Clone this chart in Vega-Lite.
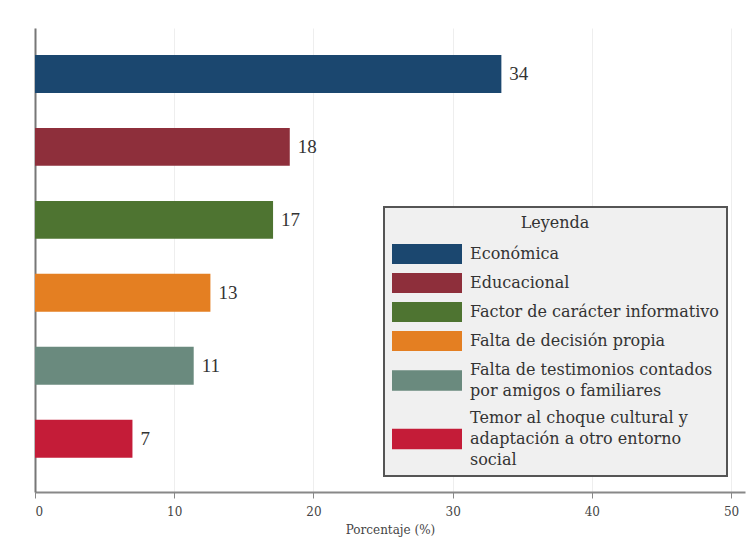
{
  "$schema": "https://vega.github.io/schema/vega-lite/v6.json",
  "width": 710,
  "height": 464,
  "autosize": {"type": "none"},
  "padding": {"left": 35, "top": 28, "right": 11, "bottom": 65},
  "background": "white",
  "config": {
    "view": {"stroke": null},
    "font": "Liberation Serif",
    "style": {"guide-label": {"lineHeight": 21}}
  },
  "data": {
    "values": [
      {"cat": "Económica", "value": 33.5, "label": "34"},
      {"cat": "Educacional", "value": 18.3, "label": "18"},
      {"cat": "Factor de carácter informativo", "value": 17.1, "label": "17"},
      {"cat": "Falta de decisión propia", "value": 12.6, "label": "13"},
      {"cat": "Falta de testimonios contados por amigos o familiares", "value": 11.4, "label": "11"},
      {"cat": "Temor al choque cultural y adaptación a otro entorno social", "value": 7.0, "label": "7"}
    ]
  },
  "encoding": {
    "y": {
      "field": "cat",
      "type": "nominal",
      "sort": null,
      "scale": {"paddingInner": 0.48, "paddingOuter": 0.42, "align": 0.44},
      "axis": {"labels": false, "ticks": false, "title": null, "domainColor": "#777777", "domainWidth": 2, "grid": false}
    },
    "x": {
      "field": "value",
      "type": "quantitative",
      "scale": {"domain": [0, 51], "nice": false},
      "axis": {
        "values": [0, 10, 20, 30, 40, 50],
        "grid": true,
        "gridColor": "#eeeeee",
        "domainColor": "#888888",
        "domainWidth": 2,
        "tickColor": "#888888",
        "tickSize": 6,
        "labelFont": "DejaVu Serif",
        "labelFontSize": 12,
        "labelColor": "#444444",
        "labelPadding": 8,
        "title": "Porcentaje (%)",
        "titleFont": "DejaVu Serif",
        "titleFontSize": 12,
        "titleFontWeight": "normal",
        "titleColor": "#444444",
        "titlePadding": 7
      }
    }
  },
  "layer": [
    {
      "mark": {"type": "bar"},
      "encoding": {
        "color": {
          "field": "cat",
          "type": "nominal",
          "sort": null,
          "scale": {
            "domain": ["Económica", "Educacional", "Factor de carácter informativo", "Falta de decisión propia", "Falta de testimonios contados por amigos o familiares", "Temor al choque cultural y adaptación a otro entorno social"],
            "range": ["#1b476f", "#8e2f3b", "#4e7431", "#e47f22", "#6a8a7e", "#c41c38"]
          },
          "legend": {
            "title": "Leyenda",
            "orient": "none",
            "legendX": 349,
            "legendY": 179,
            "fillColor": "#f0f0f0",
            "strokeColor": "#555555",
            "padding": 8,
            "clipHeight": 20,
            "titleFont": "DejaVu Serif",
            "titleFontSize": 16,
            "titleFontWeight": "normal",
            "titleColor": "#333333",
            "titleAnchor": "middle",
            "titleAlign": "center",
            "titlePadding": 13,
            "labelFont": "DejaVu Serif",
            "labelFontSize": 16,
            "labelColor": "#333333",
            "labelLimit": 400,
            "labelOffset": 8,
            "symbolType": "M-1,-0.29L1,-0.29L1,0.29L-1,0.29Z",
            "symbolSize": 4900,
            "symbolStrokeWidth": 0,
            "symbolOpacity": 1,
            "rowPadding": 9,
            "labelExpr": "datum.label == 'Falta de testimonios contados por amigos o familiares' ? ['Falta de testimonios contados', 'por amigos o familiares'] : datum.label == 'Temor al choque cultural y adaptación a otro entorno social' ? ['Temor al choque cultural y', 'adaptación a otro entorno', 'social'] : datum.label",
            "encode": {
              "legend": {"update": {"strokeWidth": {"value": 2}}},
              "symbols": {"update": {"y": {"signal": "datum.value == 'Falta de testimonios contados por amigos o familiares' ? 20.5 : datum.value == 'Temor al choque cultural y adaptación a otro entorno social' ? 31 : 10"}}}
            }
          }
        }
      }
    },
    {
      "mark": {"type": "text", "align": "left", "baseline": "middle", "dx": 8, "fontSize": 19, "font": "Liberation Serif", "color": "#333333"},
      "encoding": {"text": {"field": "label"}}
    }
  ]
}
